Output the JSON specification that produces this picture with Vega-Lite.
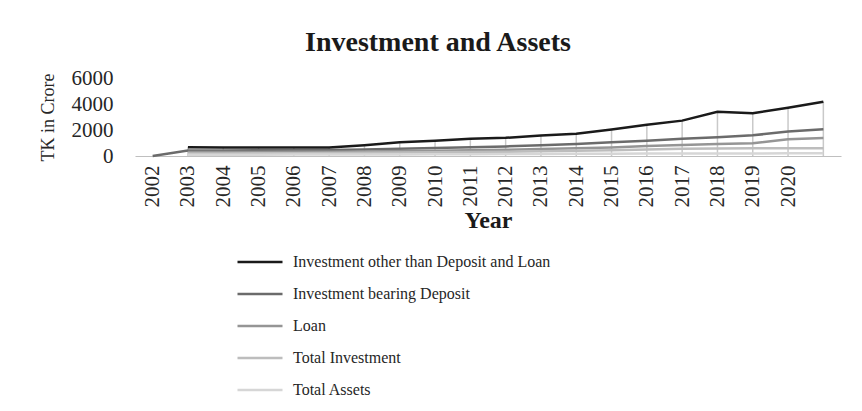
{
  "$schema": "https://vega.github.io/schema/vega-lite/v6.json",
  "width": 706,
  "height": 78,
  "autosize": {"type": "none"},
  "padding": {"left": 135, "top": 78, "right": 21, "bottom": 255},
  "background": "white",
  "config": {"view": {"stroke": null}, "font": "Liberation Serif"},
  "title": {"text": "Investment and Assets", "font": "Liberation Serif", "fontSize": 28, "fontWeight": "bold", "color": "#1a1a1a", "anchor": "middle", "dx": -50, "offset": 10},
  "data": {"values": [
    {"year": "2002", "series": "Investment bearing Deposit", "value": 0},
    {"year": "2003", "series": "Investment other than Deposit and Loan", "value": 670},
    {"year": "2004", "series": "Investment other than Deposit and Loan", "value": 660},
    {"year": "2005", "series": "Investment other than Deposit and Loan", "value": 660},
    {"year": "2006", "series": "Investment other than Deposit and Loan", "value": 650},
    {"year": "2007", "series": "Investment other than Deposit and Loan", "value": 650},
    {"year": "2008", "series": "Investment other than Deposit and Loan", "value": 820},
    {"year": "2009", "series": "Investment other than Deposit and Loan", "value": 1050},
    {"year": "2010", "series": "Investment other than Deposit and Loan", "value": 1170},
    {"year": "2011", "series": "Investment other than Deposit and Loan", "value": 1320},
    {"year": "2012", "series": "Investment other than Deposit and Loan", "value": 1400},
    {"year": "2013", "series": "Investment other than Deposit and Loan", "value": 1570},
    {"year": "2014", "series": "Investment other than Deposit and Loan", "value": 1720},
    {"year": "2015", "series": "Investment other than Deposit and Loan", "value": 2030},
    {"year": "2016", "series": "Investment other than Deposit and Loan", "value": 2400},
    {"year": "2017", "series": "Investment other than Deposit and Loan", "value": 2720},
    {"year": "2018", "series": "Investment other than Deposit and Loan", "value": 3410},
    {"year": "2019", "series": "Investment other than Deposit and Loan", "value": 3290},
    {"year": "2020", "series": "Investment other than Deposit and Loan", "value": 3710},
    {"year": "2021", "series": "Investment other than Deposit and Loan", "value": 4180},
    {"year": "2003", "series": "Investment bearing Deposit", "value": 420},
    {"year": "2004", "series": "Investment bearing Deposit", "value": 430},
    {"year": "2005", "series": "Investment bearing Deposit", "value": 440},
    {"year": "2006", "series": "Investment bearing Deposit", "value": 450},
    {"year": "2007", "series": "Investment bearing Deposit", "value": 470},
    {"year": "2008", "series": "Investment bearing Deposit", "value": 500},
    {"year": "2009", "series": "Investment bearing Deposit", "value": 560},
    {"year": "2010", "series": "Investment bearing Deposit", "value": 620},
    {"year": "2011", "series": "Investment bearing Deposit", "value": 680},
    {"year": "2012", "series": "Investment bearing Deposit", "value": 740},
    {"year": "2013", "series": "Investment bearing Deposit", "value": 830},
    {"year": "2014", "series": "Investment bearing Deposit", "value": 930},
    {"year": "2015", "series": "Investment bearing Deposit", "value": 1050},
    {"year": "2016", "series": "Investment bearing Deposit", "value": 1180},
    {"year": "2017", "series": "Investment bearing Deposit", "value": 1320},
    {"year": "2018", "series": "Investment bearing Deposit", "value": 1450},
    {"year": "2019", "series": "Investment bearing Deposit", "value": 1590},
    {"year": "2020", "series": "Investment bearing Deposit", "value": 1880},
    {"year": "2021", "series": "Investment bearing Deposit", "value": 2050},
    {"year": "2003", "series": "Loan", "value": 300},
    {"year": "2004", "series": "Loan", "value": 300},
    {"year": "2005", "series": "Loan", "value": 310},
    {"year": "2006", "series": "Loan", "value": 320},
    {"year": "2007", "series": "Loan", "value": 330},
    {"year": "2008", "series": "Loan", "value": 350},
    {"year": "2009", "series": "Loan", "value": 380},
    {"year": "2010", "series": "Loan", "value": 410},
    {"year": "2011", "series": "Loan", "value": 440},
    {"year": "2012", "series": "Loan", "value": 480},
    {"year": "2013", "series": "Loan", "value": 530},
    {"year": "2014", "series": "Loan", "value": 590},
    {"year": "2015", "series": "Loan", "value": 660},
    {"year": "2016", "series": "Loan", "value": 760},
    {"year": "2017", "series": "Loan", "value": 850},
    {"year": "2018", "series": "Loan", "value": 920},
    {"year": "2019", "series": "Loan", "value": 980},
    {"year": "2020", "series": "Loan", "value": 1280},
    {"year": "2021", "series": "Loan", "value": 1390},
    {"year": "2003", "series": "Total Investment", "value": 200},
    {"year": "2004", "series": "Total Investment", "value": 200},
    {"year": "2005", "series": "Total Investment", "value": 210},
    {"year": "2006", "series": "Total Investment", "value": 220},
    {"year": "2007", "series": "Total Investment", "value": 230},
    {"year": "2008", "series": "Total Investment", "value": 250},
    {"year": "2009", "series": "Total Investment", "value": 270},
    {"year": "2010", "series": "Total Investment", "value": 290},
    {"year": "2011", "series": "Total Investment", "value": 310},
    {"year": "2012", "series": "Total Investment", "value": 330},
    {"year": "2013", "series": "Total Investment", "value": 360},
    {"year": "2014", "series": "Total Investment", "value": 400},
    {"year": "2015", "series": "Total Investment", "value": 440},
    {"year": "2016", "series": "Total Investment", "value": 500},
    {"year": "2017", "series": "Total Investment", "value": 560},
    {"year": "2018", "series": "Total Investment", "value": 580},
    {"year": "2019", "series": "Total Investment", "value": 590},
    {"year": "2020", "series": "Total Investment", "value": 590},
    {"year": "2021", "series": "Total Investment", "value": 600},
    {"year": "2003", "series": "Total Assets", "value": 100},
    {"year": "2004", "series": "Total Assets", "value": 100},
    {"year": "2005", "series": "Total Assets", "value": 100},
    {"year": "2006", "series": "Total Assets", "value": 110},
    {"year": "2007", "series": "Total Assets", "value": 110},
    {"year": "2008", "series": "Total Assets", "value": 120},
    {"year": "2009", "series": "Total Assets", "value": 120},
    {"year": "2010", "series": "Total Assets", "value": 130},
    {"year": "2011", "series": "Total Assets", "value": 140},
    {"year": "2012", "series": "Total Assets", "value": 150},
    {"year": "2013", "series": "Total Assets", "value": 160},
    {"year": "2014", "series": "Total Assets", "value": 170},
    {"year": "2015", "series": "Total Assets", "value": 180},
    {"year": "2016", "series": "Total Assets", "value": 190},
    {"year": "2017", "series": "Total Assets", "value": 200},
    {"year": "2018", "series": "Total Assets", "value": 200},
    {"year": "2019", "series": "Total Assets", "value": 200},
    {"year": "2020", "series": "Total Assets", "value": 205},
    {"year": "2021", "series": "Total Assets", "value": 210}
  ]},
  "encoding": {
    "x": {
      "field": "year", "type": "ordinal",
      "scale": {"type": "point", "padding": 0.5},
      "axis": {
        "title": "Year", "titleFont": "Liberation Serif", "titleFontSize": 24, "titleFontWeight": "bold", "titleColor": "#1a1a1a", "titlePadding": 1,
        "labelAngle": 270, "labelFont": "Liberation Serif", "labelFontSize": 21, "labelColor": "#262626", "labelPadding": 9,
        "labelExpr": "datum.value == '2021' ? '' : datum.value",
        "ticks": false, "grid": false, "domainColor": "#bfbfbf", "domainWidth": 1.2
      }
    },
    "y": {
      "field": "value", "type": "quantitative",
      "scale": {"domain": [0, 6000], "nice": false},
      "axis": {
        "title": "TK in Crore", "titleFont": "Liberation Serif", "titleFontSize": 18, "titleFontWeight": "normal", "titleColor": "#262626", "titlePadding": 14,
        "values": [0, 2000, 4000, 6000], "format": "d", "labelFont": "Liberation Serif", "labelFontSize": 21, "labelColor": "#262626", "labelPadding": 22,
        "domain": false, "ticks": false, "grid": false
      }
    }
  },
  "layer": [
    {
      "transform": [{"filter": "datum.series == 'Investment other than Deposit and Loan'"}],
      "mark": {"type": "rule", "color": "#c9c9c9", "strokeWidth": 1.5},
      "encoding": {"y2": {"datum": 0}}
    },
    {
      "mark": {"type": "line", "strokeWidth": 2.5},
      "encoding": {
        "color": {
          "field": "series", "type": "nominal",
          "scale": {
            "domain": ["Investment other than Deposit and Loan", "Investment bearing Deposit", "Loan", "Total Investment", "Total Assets"],
            "range": ["#1a1a1a", "#6b6b6b", "#959595", "#bdbdbd", "#d6d6d6"]
          },
          "legend": {
            "orient": "none", "legendX": 101, "legendY": 160, "title": null, "direction": "vertical",
            "symbolType": "stroke", "symbolSize": 2025, "symbolStrokeWidth": 2.5,
            "labelFont": "Liberation Serif", "labelFontSize": 16, "labelColor": "#262626", "labelOffset": 9, "labelLimit": 400,
            "rowPadding": -13
          }
        }
      }
    }
  ]
}
